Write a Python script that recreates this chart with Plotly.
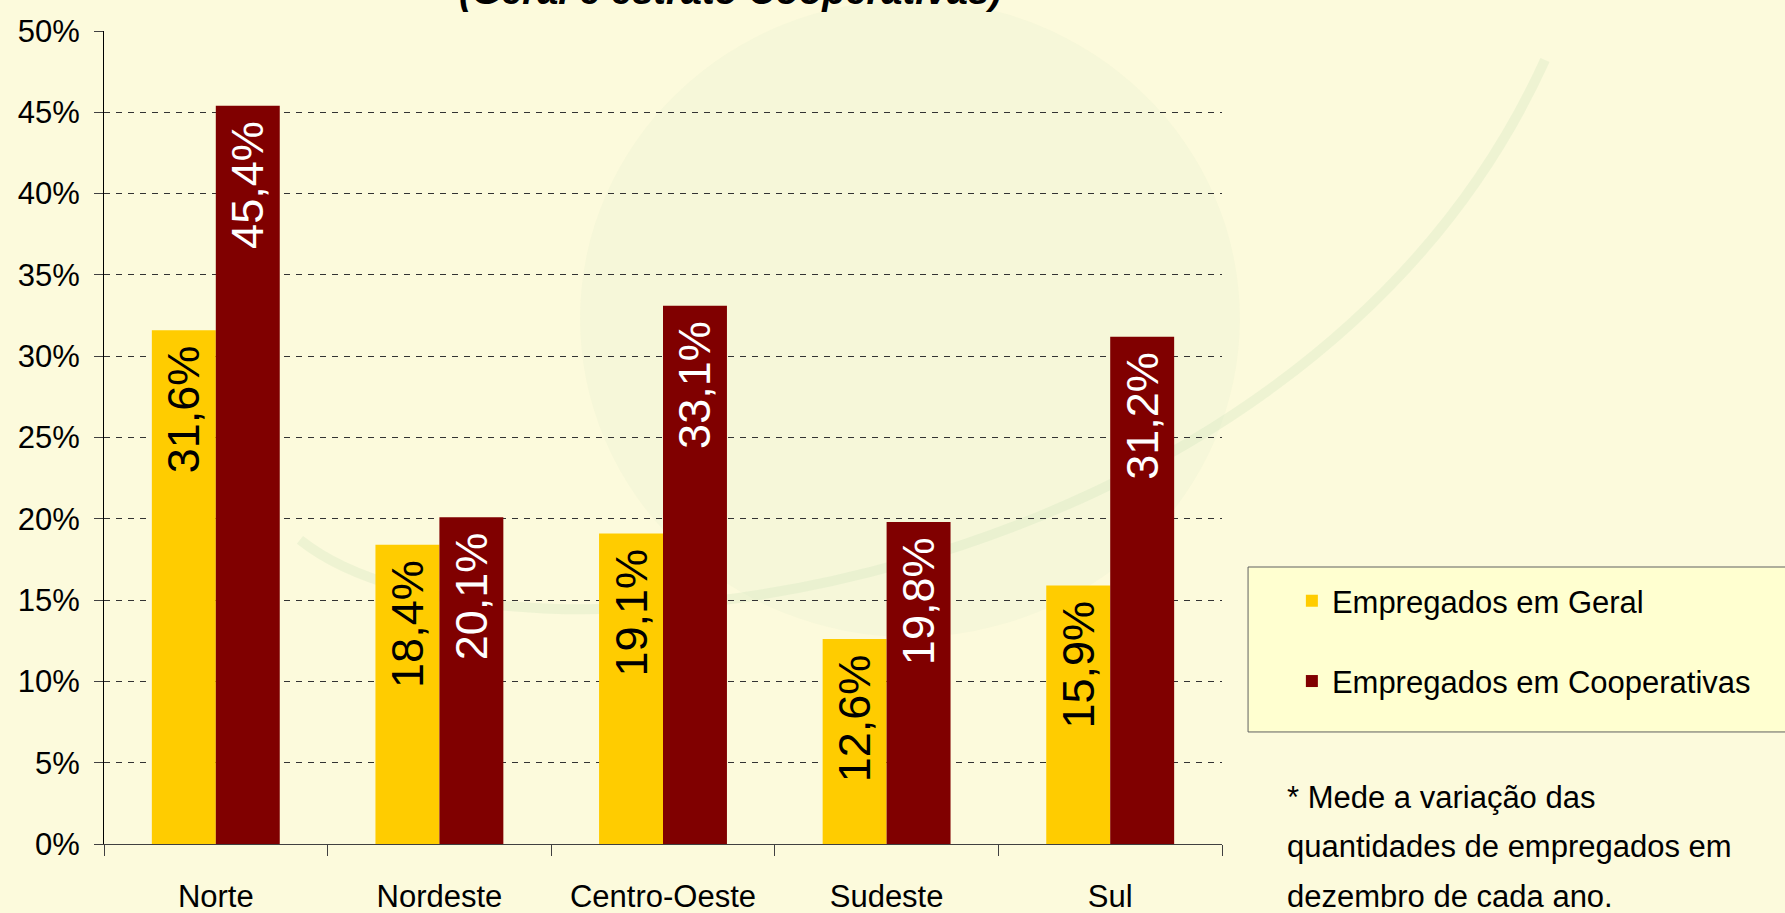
import plotly.graph_objs as go

# data
regioes = ['Norte', 'Nordeste', 'Centro-Oeste', 'Sudeste', 'Sul']
geral = [31.6, 18.4, 19.1, 12.6, 15.9]
cooperativas = [45.4, 20.1, 33.1, 19.8, 31.2]
y_ticks = [0, 5, 10, 15, 20, 25, 30, 35, 40, 45, 50]
nota = ['* Mede a variação das',
        'quantidades de empregados em',
        'dezembro de cada ano.']

fonte = 'Liberation Sans, Arial, sans-serif'
fundo = '#FCFADC'


def rotulo(v):
    return ('%.1f' % v).replace('.', ',') + '%\u00a0'


trace1 = go.Bar(x=regioes, y=geral,
                name='Empregados em Geral',
                legendgroup='g1',
                marker=dict(color='#FFCC00', line=dict(width=0)),
                text=[rotulo(v) for v in geral],
                textposition='inside',
                insidetextanchor='end',
                textangle=-90,
                textfont=dict(family=fonte, size=45, color='black'),
                hoverinfo='x+y')

trace2 = go.Bar(x=regioes, y=cooperativas,
                name='Empregados em Cooperativas',
                legendgroup='g2',
                marker=dict(color='#800000', line=dict(width=0)),
                text=[rotulo(v) for v in cooperativas],
                textposition='inside',
                insidetextanchor='end',
                textangle=-90,
                textfont=dict(family=fonte, size=45, color='white'),
                hoverinfo='x+y')

# footnote, one annotation per line (line spacing of the original)
nota_y = [0.0578, -0.0025, -0.064]
anotacoes = [dict(text='<b><i>(Geral e estrato Cooperativas)</i></b>',
                  xref='paper', yref='paper', x=0.56, y=1.021,
                  xanchor='center', yanchor='bottom', showarrow=False,
                  font=dict(family=fonte, size=38, color='black'))]
for linha, yy in zip(nota, nota_y):
    anotacoes.append(dict(text=linha, xref='paper', yref='paper',
                          x=1.0565, y=yy, xanchor='left', yanchor='middle',
                          align='left', showarrow=False,
                          font=dict(family=fonte, size=31, color='black')))

# faint background logo + legend box
formas = [
    dict(type='circle', xref='paper', yref='paper',
         x0=0.4258, x1=1.016, y0=0.2546, y1=1.038,
         fillcolor='rgba(215,235,195,0.14)', line=dict(width=0),
         layer='below'),
    dict(type='path', xref='paper', yref='paper',
         path='M 0.1753 0.374 C 0.3542 0.1771 1.0698 0.3001 1.2889 0.9643',
         line=dict(color='rgba(205,228,190,0.3)', width=10),
         layer='below'),
    dict(type='rect', xref='paper', yref='paper',
         x0=1.0233, x1=1.6, y0=0.1378, y1=0.3407,
         fillcolor='#FFFFD0', line=dict(color='#606060', width=1),
         layer='below'),
]

layout = go.Layout(
    width=1785, height=913,
    margin=dict(l=104, r=563, t=31, b=69, autoexpand=False),
    paper_bgcolor=fundo,
    plot_bgcolor='rgba(0,0,0,0)',
    font=dict(family=fonte, size=31, color='black'),
    barmode='group',
    bargap=0.428,
    bargroupgap=0,
    showlegend=True,
    legend=dict(x=1.0625, y=0.332, xanchor='left', yanchor='top',
                bgcolor='rgba(0,0,0,0)', borderwidth=0,
                traceorder='grouped', tracegroupgap=37,
                font=dict(family=fonte, size=31, color='black')),
    xaxis=dict(showline=True, linecolor='#404040', linewidth=1,
               ticks='outside', tickson='boundaries', ticklen=11,
               tickcolor='#404040', tickangle=0, ticklabelstandoff=25,
               showgrid=False, fixedrange=True),
    yaxis=dict(range=[0, 50], tickvals=y_ticks,
               ticktext=['%d%%' % t for t in y_ticks],
               showline=True, linecolor='black', linewidth=1,
               ticks='outside', ticklen=9, tickcolor='#404040',
               ticklabelstandoff=8,
               showgrid=True, gridcolor='#333333', gridwidth=1,
               griddash='6px,6px', zeroline=False, fixedrange=True),
    shapes=formas,
    annotations=anotacoes,
)

fig = go.Figure(data=[trace1, trace2], layout=layout)
fig.write_html('out.html', config=dict(displayModeBar=False),
               post_script="document.body.style.margin='0';"
                           "document.body.style.background='" + fundo + "';")
